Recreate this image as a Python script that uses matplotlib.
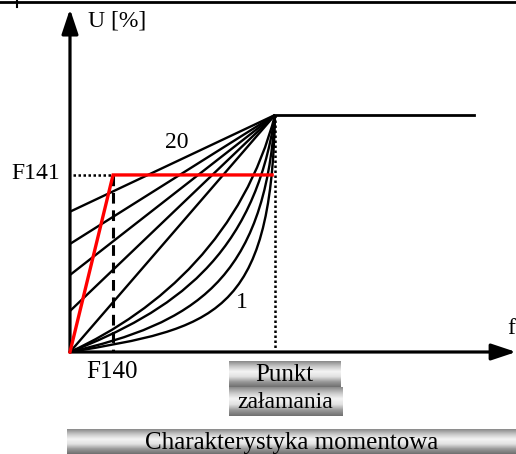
import numpy as np
import matplotlib
matplotlib.use('Agg')
import matplotlib.pyplot as plt
from matplotlib.path import Path
from matplotlib.patches import PathPatch
from matplotlib.colors import LinearSegmentedColormap

plt.rcParams['font.family'] = ['Liberation Serif', 'DejaVu Serif']

# characteristic data (f in Hz-like units, U in %)
break_f = 50.0
break_u = 100.0
flat_end_f = 98.5
f140 = 10.5
f141 = 74.7
red_end_f = 49.3
line_intercepts = [59.2, 45.6, 32.5, 17.3, 0.0]
# cubic bezier control points for the curved characteristics (from origin to break point)
curve_ctrl = [
    [(35.0, 10.0), (49.0, 15.0)],
    [(30.0, 12.0), (47.5, 30.0)],
    [(25.0, 17.0), (45.0, 40.0)],
    [(22.5, 18.0), (42.5, 50.0)],
]
f_axis_end = 108.8
u_axis_end = 144.7

W, H = 516, 454
fig = plt.figure(figsize=(W / 100, H / 100), dpi=100)
ax = fig.add_axes([0, 0, 1, 1])
ax.set_xlim(-17.07, 108.78)
ax.set_ylim(-43.04, 148.52)
ax.axis('off')

black = '#000000'
red = '#ff0000'

# axes with arrows
for tip in [(0, u_axis_end), (f_axis_end, 0)]:
    ax.annotate('', xy=tip, xytext=(0, 0),
                arrowprops=dict(arrowstyle='-|>,head_length=1.5,head_width=0.5', mutation_scale=10,
                                lw=2.3, color=black, shrinkA=0, shrinkB=0))

# straight characteristics
for u0 in line_intercepts:
    ax.plot([0, break_f], [u0, break_u], color=black, lw=1.7, solid_capstyle='butt')

# curved characteristics
for (p1, p2) in curve_ctrl:
    verts = [(0, 0), p1, p2, (break_f, break_u)]
    codes = [Path.MOVETO, Path.CURVE4, Path.CURVE4, Path.CURVE4]
    ax.add_patch(PathPatch(Path(verts, codes), fill=False, edgecolor=black, lw=1.7))

# constant part above break point
ax.plot([break_f, flat_end_f], [break_u, break_u], color=black, lw=2.0)

# helper lines
ax.plot([0.7, f140], [f141, f141], color=black, lw=1.8, linestyle=(0, (1, 1)))
ax.plot([break_f, break_f], [break_u, 0.8], color=black, lw=1.8, linestyle=(0, (1, 1)))
ax.plot([f140, f140], [f141, 0], color=black, lw=2.2, linestyle=(0, (3.5, 2.2)))

# red boost characteristic
ax.plot([0, f140, red_end_f], [0, f141, f141], color=red, lw=2.4, zorder=5,
        solid_joinstyle='miter')

# labels
ax.text(-2.4, 75.5, 'F141', ha='right', va='center', fontsize=17)
ax.text(26.1, 88.6, '20', ha='center', va='center', fontsize=17)
ax.text(42.0, 20.7, '1', ha='center', va='center', fontsize=17)
ax.text(10.2, -8.4, 'F140', ha='center', va='center', fontsize=18)
ax.text(4.4, 139.5, 'U [%]', ha='left', va='center', fontsize=17)
ax.text(108.6, 10.1, 'f', ha='right', va='center', fontsize=17)

# top border line
fig.add_artist(plt.Line2D([0, 1], [1 - 2 / H, 1 - 2 / H], color=black, lw=2))
fig.add_artist(plt.Line2D([17 / W, 17 / W], [1, 1 - 7 / H], color=black, lw=1.5))

grad_cmap = LinearSegmentedColormap.from_list(
    'btn', ['#8a8a8a', '#c8c8c8', '#f4f4f4', '#e2e2e2', '#9a9a9a', '#707070'])
grad = np.linspace(0, 1, 64).reshape(-1, 1)


def button(x0, y0, x1, y1, label, size):
    bax = fig.add_axes([x0 / W, 1 - y1 / H, (x1 - x0) / W, (y1 - y0) / H])
    bax.imshow(grad, aspect='auto', cmap=grad_cmap, extent=[0, 1, 0, 1], origin='upper')
    bax.set_xlim(0, 1)
    bax.set_ylim(0, 1)
    bax.axis('off')
    bax.text(0.5, 0.45, label, ha='center', va='center', fontsize=size)


button(229, 361, 340, 387, 'Punkt', 18)
button(229, 387, 342, 416, 'załamania', 17)
button(67, 429, 516, 454, 'Charakterystyka momentowa', 18)

fig.savefig('out.png', dpi=100)
